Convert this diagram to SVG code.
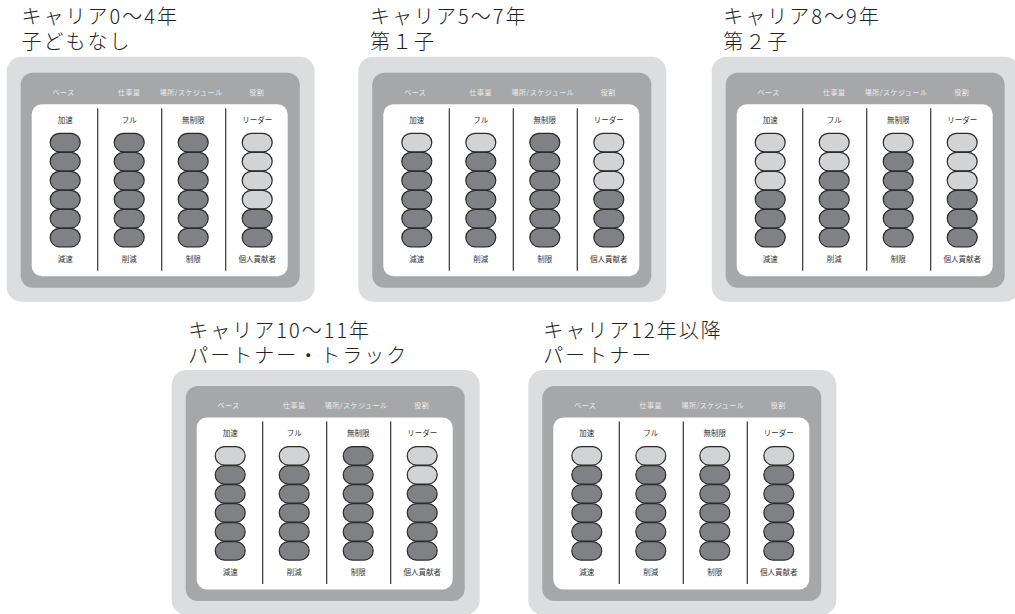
<svg xmlns="http://www.w3.org/2000/svg" width="1015" height="614" viewBox="0 0 1015 614">
<style>
.title{font-family:"Noto Sans CJK JP","Liberation Sans",sans-serif;font-size:20px;font-weight:300;letter-spacing:2px;fill:#222}
.outer{fill:#dcdddf}
.mid{fill:#a6a7a9}
.inner{fill:#ffffff}
.hdr{font-family:"Noto Sans CJK JP",sans-serif;font-size:7px;letter-spacing:0.5px;fill:#ececec;text-anchor:middle}
.lbl{font-family:"Noto Sans CJK JP",sans-serif;font-size:7.5px;fill:#333;text-anchor:middle}
.div{stroke:#333;stroke-width:1.2}
.d{fill:#808184;stroke:#2b2b2b;stroke-width:1.2}
.l{fill:#d2d3d5;stroke:#2b2b2b;stroke-width:1.2}
</style>
<defs>
<g id="frame">
<rect class="outer" x="0" y="0" width="308" height="245" rx="15"/>
<rect class="mid" x="14" y="16" width="279" height="215" rx="12"/>
<rect class="inner" x="25" y="47.5" width="256" height="172" rx="10"/>
<line class="div" x1="91" y1="51.5" x2="91" y2="214"/>
<line class="div" x1="155" y1="51.5" x2="155" y2="214"/>
<line class="div" x1="219" y1="51.5" x2="219" y2="214"/>
<text class="hdr" x="57" y="38">ベース</text>
<text class="hdr" x="122.5" y="38">仕事量</text>
<text class="hdr" x="184.5" y="38">場所/スケジュール</text>
<text class="hdr" x="250" y="38">役割</text>
<text class="lbl" x="58.5" y="66">加速</text>
<text class="lbl" x="122.5" y="66">フル</text>
<text class="lbl" x="186.5" y="66">無制限</text>
<text class="lbl" x="250.5" y="66">リーダー</text>
<text class="lbl" x="58.5" y="205">減速</text>
<text class="lbl" x="122.5" y="205">削減</text>
<text class="lbl" x="186.5" y="205">制限</text>
<text class="lbl" x="250.5" y="205">個人貢献者</text>
</g>
</defs>

<g id="panel1">
<text class="title" x="21.5" y="24">キャリア0〜4年</text>
<text class="title" x="21.5" y="49">子どもなし</text>
<g transform="translate(6.7,56.7)">
<use href="#frame"/>
<g transform="translate(43.5,76.6)">
<rect class="d" x="0" y="0" width="30" height="18.5" rx="9.25"/><rect class="d" x="0" y="19" width="30" height="18.5" rx="9.25"/><rect class="d" x="0" y="38" width="30" height="18.5" rx="9.25"/><rect class="d" x="0" y="57" width="30" height="18.5" rx="9.25"/><rect class="d" x="0" y="76" width="30" height="18.5" rx="9.25"/><rect class="d" x="0" y="95" width="30" height="18.5" rx="9.25"/>
</g>
<g transform="translate(107.5,76.6)">
<rect class="d" x="0" y="0" width="30" height="18.5" rx="9.25"/><rect class="d" x="0" y="19" width="30" height="18.5" rx="9.25"/><rect class="d" x="0" y="38" width="30" height="18.5" rx="9.25"/><rect class="d" x="0" y="57" width="30" height="18.5" rx="9.25"/><rect class="d" x="0" y="76" width="30" height="18.5" rx="9.25"/><rect class="d" x="0" y="95" width="30" height="18.5" rx="9.25"/>
</g>
<g transform="translate(171.5,76.6)">
<rect class="d" x="0" y="0" width="30" height="18.5" rx="9.25"/><rect class="d" x="0" y="19" width="30" height="18.5" rx="9.25"/><rect class="d" x="0" y="38" width="30" height="18.5" rx="9.25"/><rect class="d" x="0" y="57" width="30" height="18.5" rx="9.25"/><rect class="d" x="0" y="76" width="30" height="18.5" rx="9.25"/><rect class="d" x="0" y="95" width="30" height="18.5" rx="9.25"/>
</g>
<g transform="translate(235.5,76.6)">
<rect class="l" x="0" y="0" width="30" height="18.5" rx="9.25"/><rect class="l" x="0" y="19" width="30" height="18.5" rx="9.25"/><rect class="l" x="0" y="38" width="30" height="18.5" rx="9.25"/><rect class="l" x="0" y="57" width="30" height="18.5" rx="9.25"/><rect class="d" x="0" y="76" width="30" height="18.5" rx="9.25"/><rect class="d" x="0" y="95" width="30" height="18.5" rx="9.25"/>
</g>
</g>
</g>

<g id="panel2">
<text class="title" x="370" y="24">キャリア5〜7年</text>
<text class="title" x="370" y="49">第１子</text>
<g transform="translate(358.3,56.7)">
<use href="#frame"/>
<g transform="translate(43.5,76.6)">
<rect class="l" x="0" y="0" width="30" height="18.5" rx="9.25"/><rect class="d" x="0" y="19" width="30" height="18.5" rx="9.25"/><rect class="d" x="0" y="38" width="30" height="18.5" rx="9.25"/><rect class="d" x="0" y="57" width="30" height="18.5" rx="9.25"/><rect class="d" x="0" y="76" width="30" height="18.5" rx="9.25"/><rect class="d" x="0" y="95" width="30" height="18.5" rx="9.25"/>
</g>
<g transform="translate(107.5,76.6)">
<rect class="l" x="0" y="0" width="30" height="18.5" rx="9.25"/><rect class="d" x="0" y="19" width="30" height="18.5" rx="9.25"/><rect class="d" x="0" y="38" width="30" height="18.5" rx="9.25"/><rect class="d" x="0" y="57" width="30" height="18.5" rx="9.25"/><rect class="d" x="0" y="76" width="30" height="18.5" rx="9.25"/><rect class="d" x="0" y="95" width="30" height="18.5" rx="9.25"/>
</g>
<g transform="translate(171.5,76.6)">
<rect class="d" x="0" y="0" width="30" height="18.5" rx="9.25"/><rect class="d" x="0" y="19" width="30" height="18.5" rx="9.25"/><rect class="d" x="0" y="38" width="30" height="18.5" rx="9.25"/><rect class="d" x="0" y="57" width="30" height="18.5" rx="9.25"/><rect class="d" x="0" y="76" width="30" height="18.5" rx="9.25"/><rect class="d" x="0" y="95" width="30" height="18.5" rx="9.25"/>
</g>
<g transform="translate(235.5,76.6)">
<rect class="l" x="0" y="0" width="30" height="18.5" rx="9.25"/><rect class="l" x="0" y="19" width="30" height="18.5" rx="9.25"/><rect class="l" x="0" y="38" width="30" height="18.5" rx="9.25"/><rect class="d" x="0" y="57" width="30" height="18.5" rx="9.25"/><rect class="d" x="0" y="76" width="30" height="18.5" rx="9.25"/><rect class="d" x="0" y="95" width="30" height="18.5" rx="9.25"/>
</g>
</g>
</g>

<g id="panel3">
<text class="title" x="723.3" y="24">キャリア8〜9年</text>
<text class="title" x="723.3" y="49">第２子</text>
<g transform="translate(711.7,56.7)">
<use href="#frame"/>
<g transform="translate(43.5,76.6)">
<rect class="l" x="0" y="0" width="30" height="18.5" rx="9.25"/><rect class="l" x="0" y="19" width="30" height="18.5" rx="9.25"/><rect class="l" x="0" y="38" width="30" height="18.5" rx="9.25"/><rect class="d" x="0" y="57" width="30" height="18.5" rx="9.25"/><rect class="d" x="0" y="76" width="30" height="18.5" rx="9.25"/><rect class="d" x="0" y="95" width="30" height="18.5" rx="9.25"/>
</g>
<g transform="translate(107.5,76.6)">
<rect class="l" x="0" y="0" width="30" height="18.5" rx="9.25"/><rect class="l" x="0" y="19" width="30" height="18.5" rx="9.25"/><rect class="d" x="0" y="38" width="30" height="18.5" rx="9.25"/><rect class="d" x="0" y="57" width="30" height="18.5" rx="9.25"/><rect class="d" x="0" y="76" width="30" height="18.5" rx="9.25"/><rect class="d" x="0" y="95" width="30" height="18.5" rx="9.25"/>
</g>
<g transform="translate(171.5,76.6)">
<rect class="l" x="0" y="0" width="30" height="18.5" rx="9.25"/><rect class="d" x="0" y="19" width="30" height="18.5" rx="9.25"/><rect class="d" x="0" y="38" width="30" height="18.5" rx="9.25"/><rect class="d" x="0" y="57" width="30" height="18.5" rx="9.25"/><rect class="d" x="0" y="76" width="30" height="18.5" rx="9.25"/><rect class="d" x="0" y="95" width="30" height="18.5" rx="9.25"/>
</g>
<g transform="translate(235.5,76.6)">
<rect class="l" x="0" y="0" width="30" height="18.5" rx="9.25"/><rect class="l" x="0" y="19" width="30" height="18.5" rx="9.25"/><rect class="l" x="0" y="38" width="30" height="18.5" rx="9.25"/><rect class="d" x="0" y="57" width="30" height="18.5" rx="9.25"/><rect class="d" x="0" y="76" width="30" height="18.5" rx="9.25"/><rect class="d" x="0" y="95" width="30" height="18.5" rx="9.25"/>
</g>
</g>
</g>

<g id="panel4">
<text class="title" x="188.3" y="337.5">キャリア10〜11年</text>
<text class="title" x="188.3" y="362.5">パートナー・トラック</text>
<g transform="translate(171.7,370)">
<use href="#frame"/>
<g transform="translate(43.5,76.6)">
<rect class="l" x="0" y="0" width="30" height="18.5" rx="9.25"/><rect class="d" x="0" y="19" width="30" height="18.5" rx="9.25"/><rect class="d" x="0" y="38" width="30" height="18.5" rx="9.25"/><rect class="d" x="0" y="57" width="30" height="18.5" rx="9.25"/><rect class="d" x="0" y="76" width="30" height="18.5" rx="9.25"/><rect class="d" x="0" y="95" width="30" height="18.5" rx="9.25"/>
</g>
<g transform="translate(107.5,76.6)">
<rect class="l" x="0" y="0" width="30" height="18.5" rx="9.25"/><rect class="d" x="0" y="19" width="30" height="18.5" rx="9.25"/><rect class="d" x="0" y="38" width="30" height="18.5" rx="9.25"/><rect class="d" x="0" y="57" width="30" height="18.5" rx="9.25"/><rect class="d" x="0" y="76" width="30" height="18.5" rx="9.25"/><rect class="d" x="0" y="95" width="30" height="18.5" rx="9.25"/>
</g>
<g transform="translate(171.5,76.6)">
<rect class="d" x="0" y="0" width="30" height="18.5" rx="9.25"/><rect class="d" x="0" y="19" width="30" height="18.5" rx="9.25"/><rect class="d" x="0" y="38" width="30" height="18.5" rx="9.25"/><rect class="d" x="0" y="57" width="30" height="18.5" rx="9.25"/><rect class="d" x="0" y="76" width="30" height="18.5" rx="9.25"/><rect class="d" x="0" y="95" width="30" height="18.5" rx="9.25"/>
</g>
<g transform="translate(235.5,76.6)">
<rect class="l" x="0" y="0" width="30" height="18.5" rx="9.25"/><rect class="l" x="0" y="19" width="30" height="18.5" rx="9.25"/><rect class="d" x="0" y="38" width="30" height="18.5" rx="9.25"/><rect class="d" x="0" y="57" width="30" height="18.5" rx="9.25"/><rect class="d" x="0" y="76" width="30" height="18.5" rx="9.25"/><rect class="d" x="0" y="95" width="30" height="18.5" rx="9.25"/>
</g>
</g>
</g>

<g id="panel5">
<text class="title" x="543.3" y="337.5">キャリア12年以降</text>
<text class="title" x="543.3" y="362.5">パートナー</text>
<g transform="translate(528.3,370)">
<use href="#frame"/>
<g transform="translate(43.5,76.6)">
<rect class="l" x="0" y="0" width="30" height="18.5" rx="9.25"/><rect class="d" x="0" y="19" width="30" height="18.5" rx="9.25"/><rect class="d" x="0" y="38" width="30" height="18.5" rx="9.25"/><rect class="d" x="0" y="57" width="30" height="18.5" rx="9.25"/><rect class="d" x="0" y="76" width="30" height="18.5" rx="9.25"/><rect class="d" x="0" y="95" width="30" height="18.5" rx="9.25"/>
</g>
<g transform="translate(107.5,76.6)">
<rect class="l" x="0" y="0" width="30" height="18.5" rx="9.25"/><rect class="d" x="0" y="19" width="30" height="18.5" rx="9.25"/><rect class="d" x="0" y="38" width="30" height="18.5" rx="9.25"/><rect class="d" x="0" y="57" width="30" height="18.5" rx="9.25"/><rect class="d" x="0" y="76" width="30" height="18.5" rx="9.25"/><rect class="d" x="0" y="95" width="30" height="18.5" rx="9.25"/>
</g>
<g transform="translate(171.5,76.6)">
<rect class="l" x="0" y="0" width="30" height="18.5" rx="9.25"/><rect class="d" x="0" y="19" width="30" height="18.5" rx="9.25"/><rect class="d" x="0" y="38" width="30" height="18.5" rx="9.25"/><rect class="d" x="0" y="57" width="30" height="18.5" rx="9.25"/><rect class="d" x="0" y="76" width="30" height="18.5" rx="9.25"/><rect class="d" x="0" y="95" width="30" height="18.5" rx="9.25"/>
</g>
<g transform="translate(235.5,76.6)">
<rect class="l" x="0" y="0" width="30" height="18.5" rx="9.25"/><rect class="d" x="0" y="19" width="30" height="18.5" rx="9.25"/><rect class="d" x="0" y="38" width="30" height="18.5" rx="9.25"/><rect class="d" x="0" y="57" width="30" height="18.5" rx="9.25"/><rect class="d" x="0" y="76" width="30" height="18.5" rx="9.25"/><rect class="d" x="0" y="95" width="30" height="18.5" rx="9.25"/>
</g>
</g>
</g>
</svg>
